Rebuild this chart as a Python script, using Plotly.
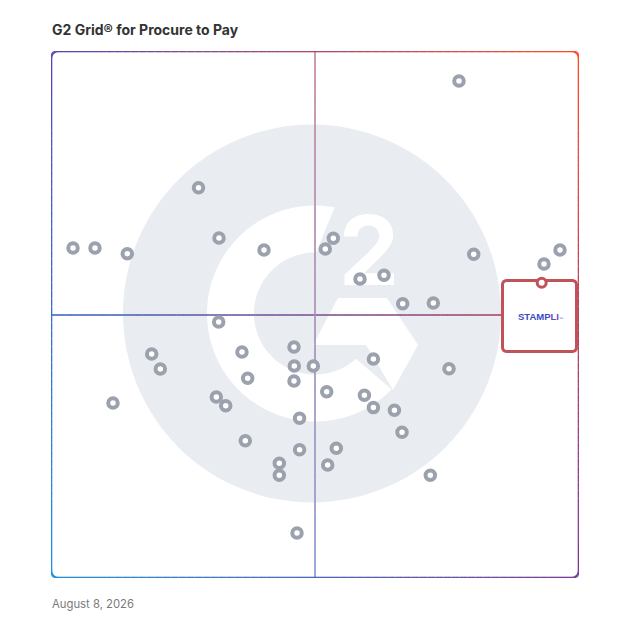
import plotly.graph_objects as go
import numpy as np

# ---------------- data ----------------
title_text = "G2 Grid® for Procure to Pay"
date_text = "August 8, 2026"

# x = satisfaction (0-100), y = market presence (0-100)
sat_x = [77.27, 4.17, 8.33, 14.45, 27.94, 31.82, 40.34, 53.47, 51.95, 80.06,
         96.40, 93.37, 58.52, 63.07, 66.61, 72.41, 31.76, 19.07, 20.70, 36.17,
         37.25, 46.02, 46.08, 49.68, 46.02, 61.06, 75.38, 11.74, 31.31, 33.09,
         52.22, 59.36, 61.06, 65.04, 66.48, 47.08, 36.80, 47.08, 54.03, 43.24,
         43.24, 52.40, 71.84, 46.59]
mkt_y = [94.31, 62.62, 62.62, 61.53, 74.05, 64.52, 62.24, 64.46, 62.43, 61.43,
         62.24, 59.58, 56.74, 57.44, 52.05, 52.18, 48.58, 42.50, 39.66, 42.88,
         37.89, 43.83, 40.23, 40.23, 37.38, 41.56, 39.72, 33.21, 34.35, 32.70,
         35.36, 34.67, 32.33, 31.83, 27.65, 30.30, 26.05, 24.35, 24.61, 21.76,
         19.48, 21.44, 19.48, 8.54]
highlight_name = "STAMPLI"
highlight_x = [92.93]
highlight_y = [56.04]

# ---------------- geometry helpers ----------------
OFF = 8                      # page body margin
W = H = 628 - OFF
L, R, T, B = 51, 579, 51, 578  # plot area in screenshot pixels


def px2x(px):
    return (px - L) / (R - L) * 100


def py2y(py):
    return (B - py) / (B - T) * 100


def hex2rgb(h):
    h = h.lstrip('#')
    return np.array([int(h[i:i + 2], 16) for i in (0, 2, 4)], dtype=float)


TL, TR, BR, BL = hex2rgb('#5646b3'), hex2rgb('#ff4a28'), hex2rgb('#7a3a9c'), hex2rgb('#2290da')


def grad_color(px, py, alpha=1.0):
    u = min(max((px - L) / (R - L), 0), 1)
    v = min(max((py - T) / (B - T), 0), 1)
    c = (1 - u) * (1 - v) * TL + u * (1 - v) * TR + (1 - u) * v * BL + u * v * BR
    c = c * alpha + 255 * (1 - alpha)
    return 'rgb(%d,%d,%d)' % tuple(int(round(t)) for t in c)


def path_from_pixels(pts, close=True):
    s = 'M ' + ' L '.join('%.3f,%.3f' % (px2x(a), py2y(b)) for a, b in pts)
    return s + (' Z' if close else '')


def rounded_rect_pts(x0, y0, x1, y1, r, n=8):
    pts = []
    corners = [(x1 - r, y0 + r, 90, 0), (x1 - r, y1 - r, 0, -90),
               (x0 + r, y1 - r, -90, -180), (x0 + r, y0 + r, 180, 90)]
    for cx, cy, a0, a1 in corners:
        for a in np.linspace(np.radians(a0), np.radians(a1), n):
            pts.append((cx + r * np.cos(a), cy - r * np.sin(a)))
    return pts


shapes = []

# ---------------- G2 watermark ----------------
ccx, ccy, cr = 312, 313.5, 189
shapes.append(dict(type='circle', xref='x', yref='y',
                   x0=px2x(ccx - cr), x1=px2x(ccx + cr), y0=py2y(ccy + cr), y1=py2y(ccy - cr),
                   fillcolor='#e9ecf0', line=dict(width=0), layer='below'))

gx, gy, ro, ri = 315, 313.5, 108, 61
ring = []
for a in np.linspace(79.5, 315.3, 120):
    t = np.radians(a)
    ring.append((gx + ro * np.cos(t), gy - ro * np.sin(t)))
for a in np.linspace(312.2, 89.0, 100):
    t = np.radians(a)
    ring.append((gx + ri * np.cos(t), gy - ri * np.sin(t)))
shapes.append(dict(type='path', xref='x', yref='y', path=path_from_pixels(ring),
                   fillcolor='white', line=dict(width=0), layer='below'))

chev = [(338, 298), (387, 298), (418, 345), (393, 390), (366, 345), (313, 345)]
shapes.append(dict(type='path', xref='x', yref='y', path=path_from_pixels(chev),
                   fillcolor='white', line=dict(width=0), layer='below'))

# ---------------- gradient quadrant lines ----------------
N = 80
xs = np.linspace(L, R, N + 1)
for a, b in zip(xs[:-1], xs[1:]):
    m = (a + b) / 2
    shapes.append(dict(type='line', xref='x', yref='y', x0=px2x(a), x1=px2x(b) + 0.05,
                       y0=py2y(315), y1=py2y(315),
                       line=dict(color=grad_color(m, 315, 0.95), width=1.7), layer='below'))
ys = np.linspace(T, B, N + 1)
for a, b in zip(ys[:-1], ys[1:]):
    m = (a + b) / 2
    shapes.append(dict(type='line', xref='x', yref='y', x0=px2x(315), x1=px2x(315),
                       y0=py2y(a), y1=py2y(b) - 0.05,
                       line=dict(color=grad_color(315, m, 0.65), width=1.7), layer='below'))

# ---------------- gradient rounded border ----------------
bpts = rounded_rect_pts(L, T, R, B, 7, n=6)
dense = []
for i in range(len(bpts)):
    p, q = bpts[i], bpts[(i + 1) % len(bpts)]
    seg_len = np.hypot(q[0] - p[0], q[1] - p[1])
    k = max(1, int(seg_len // 8))
    for j in range(k):
        dense.append((p[0] + (q[0] - p[0]) * j / k, p[1] + (q[1] - p[1]) * j / k))
for i in range(len(dense)):
    p, q = dense[i], dense[(i + 1) % len(dense)]
    m = ((p[0] + q[0]) / 2, (p[1] + q[1]) / 2)
    shapes.append(dict(type='path', xref='x', yref='y', path=path_from_pixels([p, q], close=False),
                       line=dict(color=grad_color(*m), width=2.6), layer='below'))

# ---------------- highlighted vendor box ----------------
box = rounded_rect_pts(502.5, 280.5, 576.5, 351.5, 4, n=5)
shapes.append(dict(type='path', xref='x', yref='y', path=path_from_pixels(box),
                   fillcolor='white', line=dict(color='#c0525a', width=3), layer='below'))

fig = go.Figure()

# the "2" of the watermark (as a text trace so points are drawn above it)
fig.add_trace(go.Scatter(x=[px2x(369)], y=[py2y(261)], mode='text', text=['2'],
                         textfont=dict(size=96, color='white', family='Inter', weight=700),
                         hoverinfo='skip', showlegend=False))

fig.add_trace(go.Scatter(x=sat_x, y=mkt_y, mode='markers',
                         marker=dict(size=9.5, color='white', line=dict(color='#9ca1ae', width=4)),
                         hoverinfo='skip', showlegend=False))

fig.add_trace(go.Scatter(x=highlight_x, y=highlight_y, mode='markers',
                         marker=dict(size=9, color='white', line=dict(color='#c0525a', width=3)),
                         hoverinfo='skip', showlegend=False))

annotations = [
    dict(xref='paper', yref='paper', x=(50 - L) / (R - L), y=(B - 29) / (B - T),
         xanchor='left', yanchor='middle', showarrow=False, text=title_text,
         font=dict(family='Inter', size=14, color='#333333', weight=700)),
    dict(xref='paper', yref='paper', x=(50 - L) / (R - L), y=(B - 604) / (B - T),
         xanchor='left', yanchor='middle', showarrow=False, text=date_text,
         font=dict(family='Inter', size=11.3, color='#7a7a7a')),
    dict(xref='x', yref='y', x=px2x(540), y=py2y(316), xanchor='center', yanchor='middle',
         showarrow=False,
         text="<b><span style='color:#3a4cc2'>STAMP</span><span style='color:#6a46c8'>LI</span></b>"
              "<span style='font-size:4px;color:#6a46c8'>™</span>",
         font=dict(family='Arial', size=9.5, color='#3a4cc2')),
]

fig.update_layout(
    width=W, height=H, autosize=False,
    margin=dict(l=L - OFF, r=W + OFF - R, t=T - OFF, b=H + OFF - B, pad=0),
    paper_bgcolor='white', plot_bgcolor='white',
    xaxis=dict(range=[0, 100], visible=False, fixedrange=True),
    yaxis=dict(range=[0, 100], visible=False, fixedrange=True),
    shapes=shapes, annotations=annotations, showlegend=False,
)

fig.write_html("out.html")
